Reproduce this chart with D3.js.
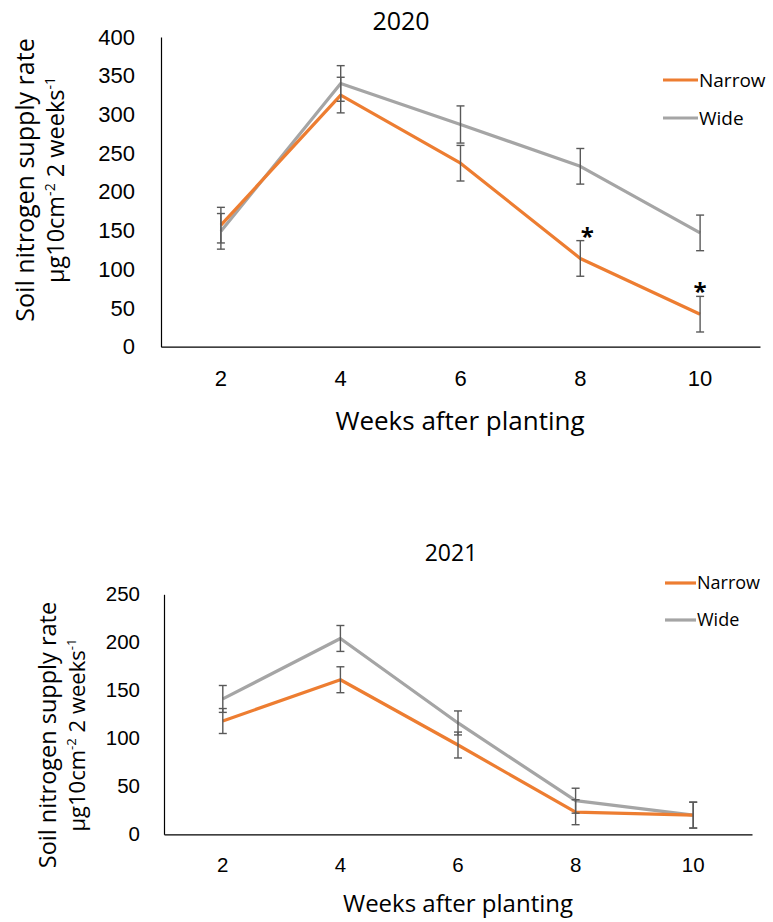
<!DOCTYPE html>
<html lang="en">
<head>
    <meta charset="UTF-8">
    <title>Soil nitrogen supply rate</title>
    <script src="https://cdnjs.cloudflare.com/ajax/libs/d3/7.8.5/d3.min.js"></script>
    <style>
        body {
            margin: 0;
            background: #fff;
            font-family: "Open Sans", "Noto Sans", sans-serif;
        }
        text { fill: #000; }
    </style>
</head>
<body>
    <script>
        // Data
        const weeks = ['2', '4', '6', '8', '10'];
        const seriesNames = ['Narrow', 'Wide'];

        const narrow2020 = [157, 325, 237, 114, 42];
        const wide2020 = [149, 340, 287, 233, 147];
        const narrowErr2020 = [23, 23, 23, 23, 23];
        const wideErr2020 = [23, 23, 24, 23, 23];
        const yTicks2020 = [0, 50, 100, 150, 200, 250, 300, 350, 400];
        const starWeeks2020 = ['8', '10'];

        const narrow2021 = [118, 161, 93, 23, 20];
        const wide2021 = [141, 204, 116, 35, 20];
        const narrowErr2021 = [13, 13.5, 13.5, 13, 13.5];
        const wideErr2021 = [14, 13.5, 12.5, 13, 13.5];
        const yTicks2021 = [0, 50, 100, 150, 200, 250];

        const colors = { Narrow: '#ED7D31', Wide: '#A5A5A5' };
        const errColor = '#595959';

        const width = 773;
        const height = 922;

        const svg = d3.select('body')
            .append('svg')
            .attr('width', width)
            .attr('height', height);

        function drawPanel(p) {
            const g = svg.append('g');

            const x = d3.scaleBand()
                .domain(weeks)
                .range([p.left, p.right]);

            const y = d3.scaleLinear()
                .domain([0, d3.max(p.yTicks)])
                .range([p.bottom, p.top]);

            // y axis: line and labels, no tick marks
            const yAxis = g.append('g')
                .attr('transform', `translate(${p.left},0)`)
                .call(d3.axisLeft(y).tickValues(p.yTicks).tickSize(0).tickPadding(p.yPad));
            yAxis.select('.domain').attr('stroke', '#000').attr('stroke-width', 1.2);
            yAxis.selectAll('text')
                .style('font-size', p.tickFont + 'px')
                .style('font-family', 'inherit')
                .attr('fill', '#000');

            const xAxis = g.append('g')
                .attr('transform', `translate(0,${p.bottom})`)
                .call(d3.axisBottom(x).tickSize(0).tickPadding(p.xPad));
            xAxis.select('.domain').attr('stroke', '#000').attr('stroke-width', 1.2);
            xAxis.selectAll('text')
                .style('font-size', p.tickFont + 'px')
                .style('font-family', 'inherit')
                .attr('fill', '#000');

            const cx = w => x(w) + x.bandwidth() / 2;

            const line = d3.line()
                .x((d, i) => cx(weeks[i]))
                .y(d => y(d));

            // series lines (Wide underneath)
            p.series.slice().reverse().forEach(s => {
                g.append('path')
                    .datum(s.values)
                    .attr('fill', 'none')
                    .attr('stroke', colors[s.name])
                    .attr('stroke-width', 3.2)
                    .attr('stroke-linejoin', 'round')
                    .attr('d', line);
            });

            // error bars
            p.series.forEach(s => {
                const eb = g.append('g')
                    .attr('stroke', errColor)
                    .attr('stroke-width', 1.4);
                s.values.forEach((v, i) => {
                    const xc = cx(weeks[i]);
                    const e = s.err[i];
                    eb.append('line')
                        .attr('x1', xc).attr('x2', xc)
                        .attr('y1', y(v + e)).attr('y2', y(v - e));
                    [v + e, v - e].forEach(c => {
                        eb.append('line')
                            .attr('x1', xc - 4).attr('x2', xc + 4)
                            .attr('y1', y(c)).attr('y2', y(c));
                    });
                });
            });

            // significance stars
            (p.stars || []).forEach(w => {
                const i = weeks.indexOf(w);
                const s = p.series[0];
                g.append('text')
                    .attr('x', cx(w) + p.starDx[i])
                    .attr('y', y(s.values[i] + s.err[i]) + p.starDy)
                    .attr('text-anchor', 'middle')
                    .style('font-size', '24px')
                    .style('font-weight', 'bold')
                    .text('*');
            });

            // title
            g.append('text')
                .attr('x', p.titleX)
                .attr('y', p.titleY)
                .attr('text-anchor', 'middle')
                .style('font-size', p.titleFont + 'px')
                .text(p.title);

            // x axis title
            g.append('text')
                .attr('x', p.xTitleX)
                .attr('y', p.xTitleY)
                .attr('text-anchor', 'middle')
                .style('font-size', p.xTitleFont + 'px')
                .text('Weeks after planting');

            // y axis title, two lines
            const yt = g.append('text')
                .attr('transform', `translate(${p.yTitleX},${p.yTitleY}) rotate(-90)`)
                .attr('text-anchor', 'middle');
            yt.append('tspan')
                .attr('x', 0).attr('dy', 0)
                .style('font-size', p.yTitleFont + 'px')
                .text('Soil nitrogen supply rate');
            const l2 = yt.append('tspan')
                .attr('x', 0).attr('dy', p.yTitleGap)
                .style('font-size', p.yTitleFont2 + 'px');
            l2.append('tspan').text('µg10cm');
            l2.append('tspan').attr('dy', -9).style('font-size', '0.6em').text('-2');
            l2.append('tspan').attr('dy', 9).text(' 2 weeks');
            l2.append('tspan').attr('dy', -9).style('font-size', '0.6em').text('-1');

            // legend
            const lg = g.append('g');
            p.series.forEach((s, i) => {
                const ly = p.legendY + i * p.legendGap;
                lg.append('line')
                    .attr('x1', p.legendX).attr('x2', p.legendX + p.legendLen)
                    .attr('y1', ly).attr('y2', ly)
                    .attr('stroke', colors[s.name])
                    .attr('stroke-width', 3.2);
                lg.append('text')
                    .attr('x', p.legendX + p.legendLen + 1)
                    .attr('y', ly)
                    .attr('dy', '0.35em')
                    .style('font-size', p.legendFont + 'px')
                    .text(s.name);
            });
        }

        drawPanel({
            title: '2020',
            left: 161, right: 760, top: 37, bottom: 346.7,
            yTicks: yTicks2020,
            series: [
                { name: seriesNames[0], values: narrow2020, err: narrowErr2020 },
                { name: seriesNames[1], values: wide2020, err: wideErr2020 }
            ],
            stars: starWeeks2020,
            starDx: [0, 0, 0, 7, 0],
            starDy: 4,
            tickFont: 22, yPad: 26, xPad: 24,
            titleX: 401, titleY: 30, titleFont: 25,
            xTitleX: 460, xTitleY: 430, xTitleFont: 26,
            yTitleX: 34, yTitleY: 180, yTitleFont: 25, yTitleFont2: 23.5, yTitleGap: 30,
            legendX: 663, legendLen: 35, legendY: 80, legendGap: 38, legendFont: 19
        });

        drawPanel({
            title: '2021',
            left: 164, right: 752, top: 594.3, bottom: 834.3,
            yTicks: yTicks2021,
            series: [
                { name: seriesNames[0], values: narrow2021, err: narrowErr2021 },
                { name: seriesNames[1], values: wide2021, err: wideErr2021 }
            ],
            tickFont: 20.5, yPad: 24, xPad: 23,
            titleX: 451, titleY: 561, titleFont: 23,
            xTitleX: 458, xTitleY: 912, xTitleFont: 24,
            yTitleX: 56, yTitleY: 735, yTitleFont: 23.5, yTitleFont2: 22, yTitleGap: 29,
            legendX: 665, legendLen: 31, legendY: 583, legendGap: 37, legendFont: 18
        });
    </script>
</body>
</html>
